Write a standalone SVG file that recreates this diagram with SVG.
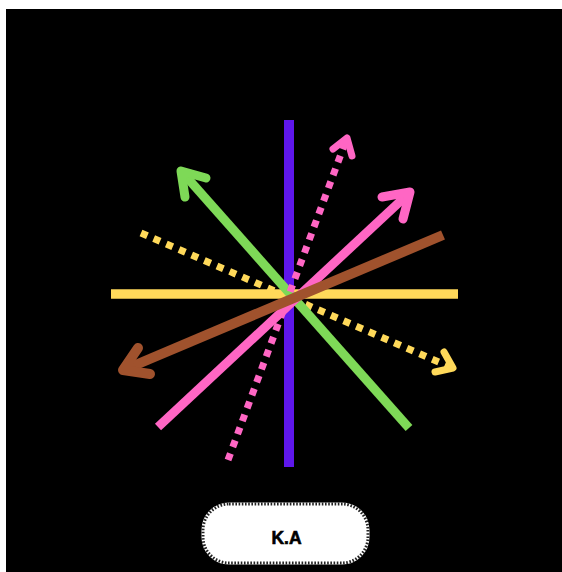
<svg xmlns="http://www.w3.org/2000/svg" width="562" height="572" viewBox="0 0 562 572">
<style>
.ln{fill:none;stroke-linecap:butt}
.hd{fill:none;stroke-linecap:round;stroke-linejoin:round}
.dot{fill:none;stroke-linecap:butt;stroke-width:7;stroke-dasharray:7 6.8}
.lbl{font-family:"Liberation Sans",Arial,sans-serif;font-weight:bold;font-size:17.5px;fill:#000;stroke:#000;stroke-width:0.6;text-anchor:middle}
</style>
<rect x="0" y="0" width="562" height="572" fill="#fff"/>
<rect x="6" y="9" width="556" height="563" fill="#000"/>
<g id="connectors">
  <g id="purple"><line class="ln" x1="289" y1="120" x2="289" y2="467" stroke="#5E17EB" stroke-width="10"/></g>
  <g id="yellow"><line class="ln" x1="111" y1="294" x2="458" y2="294" stroke="#FFD95A" stroke-width="9.5"/></g>
  <g id="yellow-dotted" stroke="#FFD95A">
    <line class="dot" x1="141" y1="233" x2="448" y2="366"/>
    <path class="hd" stroke-width="7" d="M444 352 L453 368 L435 372"/>
  </g>
  <g id="green" stroke="#7ED957">
    <line class="ln" stroke-width="9" x1="409" y1="428" x2="183" y2="173"/>
    <path class="hd" stroke-width="9" d="M185 197 L181 171 L206 178"/>
  </g>
  <g id="pink-dotted" stroke="#FF66C4">
    <line class="dot" x1="228" y1="460" x2="345" y2="143"/>
    <path class="hd" stroke-width="7" d="M333 149 L347 138 L352 156"/>
  </g>
  <g id="pink" stroke="#FF66C4">
    <line class="ln" stroke-width="9" x1="158" y1="427" x2="407" y2="195"/>
    <path class="hd" stroke-width="9" d="M382 197 L410 192 L403 219"/>
  </g>
  <g id="brown" stroke="#A0522D">
    <line class="ln" stroke-width="10" x1="443" y1="235" x2="126" y2="369"/>
    <path class="hd" stroke-width="10" d="M138 348 L123 370 L150 374"/>
  </g>
</g>
<g id="label">
  <rect x="203" y="504" width="165" height="59" rx="26" fill="#fff" stroke="#fff" stroke-width="3"/>
  <rect x="203" y="504" width="165" height="59" rx="26" fill="none" stroke="#222" stroke-width="3" stroke-dasharray="1.6 1.6"/>
  <text class="lbl" x="286.5" y="544">K.A</text>
</g>
</svg>
